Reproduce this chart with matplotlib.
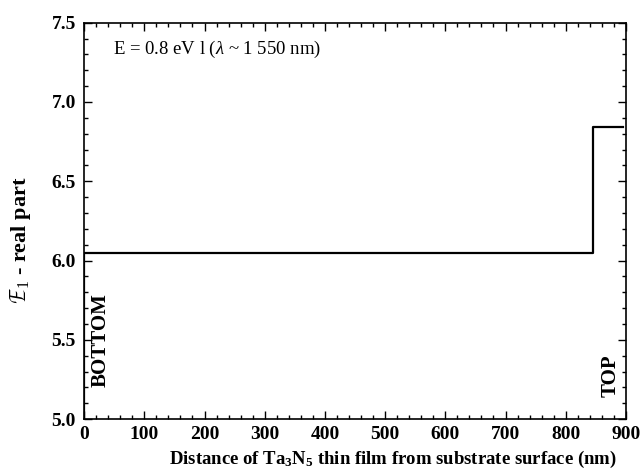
import matplotlib.pyplot as plt
import matplotlib as mpl
from matplotlib.ticker import MultipleLocator

# step profile of the real part of the permittivity across the film
distance = [0, 0, 845, 845, 895]      # nm
eps_real = [5.0, 6.05, 6.05, 6.84, 6.84]

xticks = [0, 100, 200, 300, 400, 500, 600, 700, 800, 900]
yticks = [5.0, 5.5, 6.0, 6.5, 7.0, 7.5]

mpl.rcParams['font.family'] = ['Liberation Serif', 'DejaVu Serif']
mpl.rcParams['mathtext.fontset'] = 'custom'
mpl.rcParams['mathtext.rm'] = 'Liberation Serif'
mpl.rcParams['mathtext.it'] = 'Liberation Serif:italic'
mpl.rcParams['mathtext.bf'] = 'Liberation Serif:bold'

fig = plt.figure(figsize=(6.42, 4.72), dpi=100)
ax = fig.add_axes([0.131, 0.112, 0.844, 0.840])

ax.plot(distance, eps_real, color='k', linewidth=1.6)

ax.set_xlim(0, 900)
ax.set_ylim(5.0, 7.5)
ax.set_xticks(xticks)
ax.set_yticks(yticks)
ax.set_yticklabels([f'{v:.1f}' for v in yticks])
ax.xaxis.set_minor_locator(MultipleLocator(20))
ax.yaxis.set_minor_locator(MultipleLocator(0.1))
ax.tick_params(which='both', direction='in', top=True, right=True, width=1)
ax.tick_params(which='major', length=6, labelsize=14)
ax.tick_params(axis='x', which='major', pad=5)
ax.tick_params(axis='y', which='major', pad=6)
ax.tick_params(which='minor', length=3)
for lab in ax.get_xticklabels() + ax.get_yticklabels():
    lab.set_fontweight('bold')
for sp in ax.spines.values():
    sp.set_linewidth(1.2)

ax.set_xlabel(r'Distance of Ta$_\mathbf{3}$N$_\mathbf{5}$ thin film from substrate surface (nm)',
              fontsize=13.5, fontweight='bold')
ax.xaxis.set_label_coords(0.57, -0.075)
ax.set_ylabel(r'$\mathcal{E}_{\mathit{1}}$ - real part', fontsize=16, fontweight='bold')
ax.yaxis.set_label_coords(-0.094, 0.452)

ax.text(48, 7.33, r'E = 0.8 eV l ($\lambda$ ~ 1 550 nm)', fontsize=13.5, va='center')
ax.text(27, 5.2, 'BOTTOM', rotation=90, fontsize=15, fontweight='bold',
        ha='center', va='bottom')
ax.text(874, 5.14, 'TOP', rotation=90, fontsize=15, fontweight='bold',
        ha='center', va='bottom')

fig.savefig('out.png', dpi=100, facecolor='w')
